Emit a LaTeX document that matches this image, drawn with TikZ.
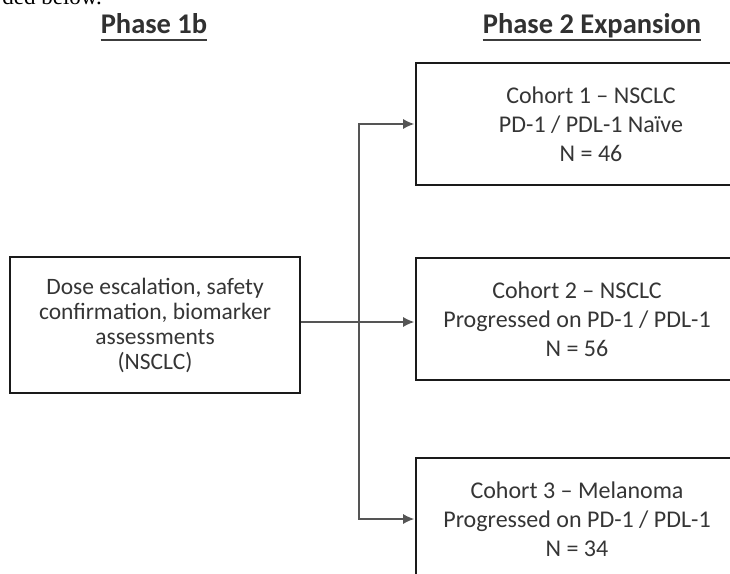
\documentclass[tikz,border=0pt]{standalone}
\usepackage{fontspec}
\setmainfont{Carlito}
\newfontfamily\seriffont{Liberation Serif}
\usetikzlibrary{arrows.meta,calc}
\definecolor{txt}{HTML}{353535}
\definecolor{conn}{HTML}{555555}
\definecolor{edge}{HTML}{1A1A1A}
\tikzset{
  heading/.style={inner sep=0pt, anchor=base, font=\bfseries\fontsize{28.5}{32}\selectfont, text=edge!90},
  boxnode/.style={draw=edge, line width=2.6pt, align=center, inner sep=0pt, text=txt},
  cohort/.style={boxnode, font=\fontsize{24}{29}\selectfont, minimum height=122pt},
  connector/.style={draw=conn, line width=1.4pt},
  arrowline/.style={connector, -{Latex[length=11pt,width=10pt]}, shorten >=0.5pt}
}
\begin{document}
\begin{tikzpicture}[x=1pt,y=-1pt]
\useasboundingbox (0,0) rectangle (730,573);
% cut-off text at the very top
\node[anchor=base east, inner sep=0pt, font=\seriffont\fontsize{23}{26}\selectfont] (top) at (102,4) {ded below.};
% headings
\node[heading] (h1) at (154,33) {Phase 1b};
\node[heading] (h2) at (592,33) {Phase 2 Expansion};
\draw[edge!85, line width=2.2pt] ($(h1.base west)+(0,7)$) -- ($(h1.base east)+(0,7)$);
\draw[edge!85, line width=2.2pt] ($(h2.base west)+(0,7)$) -- ($(h2.base east)+(0,7)$);
% phase 1b box
\node[boxnode, minimum width=290pt, minimum height=136pt, font=\fontsize{23.5}{25}\selectfont] (L) at (155,325)
  {Dose escalation, safety\\confirmation, biomarker\\assessments\\(NSCLC)};
% cohort boxes (extend beyond the right edge)
\node[cohort, minimum width=350pt] (B1) at (591,124) {Cohort 1 – NSCLC\\PD-1 / PDL-1 Naïve\\N = 46};
\node[cohort, minimum width=322pt] (B2) at (577,319) {Cohort 2 – NSCLC\\Progressed on PD-1 / PDL-1\\N = 56};
\node[cohort, minimum width=322pt] (B3) at (577,519) {Cohort 3 – Melanoma\\Progressed on PD-1 / PDL-1\\N = 34};
% connectors
\coordinate (split) at (359,322);
\draw[arrowline] (L.east |- split) -- (B2.west |- split);
\draw[arrowline] (split) |- (B1.west);
\draw[arrowline] (split) |- (B3.west);
\end{tikzpicture}
\end{document}
